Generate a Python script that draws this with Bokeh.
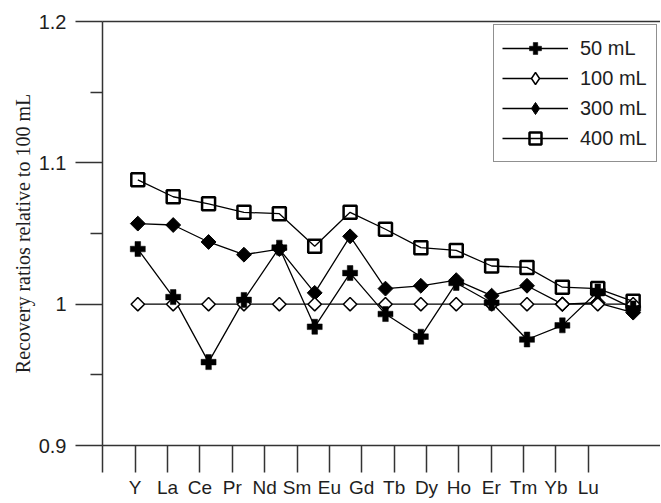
import math
from bokeh.plotting import figure
from bokeh.models import (ColumnDataSource, Range1d, LinearAxis, FixedTicker,
                          Legend, LegendItem)
from bokeh.embed import file_html
from bokeh.resources import INLINE

# ---------------- data ----------------
elements = ["Y", "La", "Ce", "Pr", "Nd", "Sm", "Eu", "Gd", "Tb", "Dy", "Ho", "Er", "Tm", "Yb", "Lu"]
ml50 = [1.039, 1.005, 0.959, 1.003, 1.040, 0.984, 1.022, 0.993, 0.977, 1.015, 1.001, 0.975, 0.985, 1.009, 0.997]
ml100 = [1.000, 1.000, 1.000, 1.000, 1.000, 1.000, 1.000, 1.000, 1.000, 1.000, 1.000, 1.000, 1.000, 1.000, 1.000]
ml300 = [1.057, 1.056, 1.044, 1.035, 1.039, 1.008, 1.048, 1.011, 1.013, 1.017, 1.006, 1.013, 1.000, 1.001, 0.994]
ml400 = [1.088, 1.076, 1.071, 1.065, 1.064, 1.041, 1.065, 1.053, 1.040, 1.038, 1.027, 1.026, 1.012, 1.011, 1.002]
series_names = ["50 mL", "100 mL", "300 mL", "400 mL"]
y_major = [0.9, 1.0, 1.1, 1.2]
y_minor = [0.95, 1.05, 1.15]
y_tick_labels = ["0.9", "1", "1.1", "1.2"]
x_tick_labels = [""] + elements  # tick 0 sits on the y axis, unlabeled
y_title = "Recovery ratios relative to 100 mL"

idx = list(range(len(elements)))
src = ColumnDataSource(dict(x=idx, ml50=ml50, ml100=ml100, ml300=ml300, ml400=ml400))

TXT = "#1e1e1e"
AX = "#333333"

p = figure(width=660, height=500, output_backend="svg", toolbar_location=None,
           x_axis_type=None, y_axis_type=None,
           x_range=Range1d(-0.998, 14.773), y_range=Range1d(0.9, 1.2),
           min_border_left=102, min_border_right=0, min_border_top=21, min_border_bottom=54)
p.outline_line_color = None
p.background_fill_color = "white"
p.border_fill_color = "white"

# separate range for the element tick row
p.extra_x_ranges = {"lab": Range1d(-0.01, 17.23)}

# left axis
yax = LinearAxis(ticker=FixedTicker(ticks=y_major, minor_ticks=y_minor),
                 major_label_overrides={v: s for v, s in zip(y_major, y_tick_labels)},
                 axis_label=y_title)
yax.major_tick_in = 0
yax.major_tick_out = 27
yax.minor_tick_in = 0
yax.minor_tick_out = 12
yax.major_label_standoff = 9
yax.axis_line_width = 1.5
yax.major_tick_line_width = 1.5
yax.minor_tick_line_width = 1.5
yax.axis_line_color = AX
yax.major_tick_line_color = AX
yax.minor_tick_line_color = AX
yax.major_label_text_font = "Liberation Sans"
yax.major_label_text_font_size = "20px"
yax.major_label_text_color = TXT
yax.axis_label_text_font = "Liberation Serif"
yax.axis_label_text_font_size = "20px"
yax.axis_label_text_font_style = "normal"
yax.axis_label_text_color = TXT
yax.axis_label_standoff = 2
p.add_layout(yax, "left")

# bottom axis (element labels)
xax = LinearAxis(x_range_name="lab", ticker=FixedTicker(ticks=list(range(len(x_tick_labels)))),
                 major_label_overrides={i: s for i, s in enumerate(x_tick_labels)})
xax.major_tick_in = 0
xax.major_tick_out = 27
xax.minor_tick_out = 0
xax.minor_tick_in = 0
xax.major_label_standoff = 4
xax.axis_line_width = 1.5
xax.major_tick_line_width = 1.5
xax.axis_line_color = AX
xax.major_tick_line_color = AX
xax.major_label_text_font = "Liberation Sans"
xax.major_label_text_font_size = "19px"
xax.major_label_text_color = TXT
p.add_layout(xax, "below")

# top frame line
tax = LinearAxis(ticker=FixedTicker(ticks=[]))
tax.major_tick_out = 0
tax.major_tick_in = 0
tax.minor_tick_out = 0
tax.minor_tick_in = 0
tax.major_label_standoff = 0
tax.major_label_text_font_size = "0px"
tax.axis_line_width = 1.5
tax.axis_line_color = AX
p.add_layout(tax, "above")

# ---------------- series ----------------
LW = 1.3
l400 = p.line("x", "ml400", source=src, line_color="black", line_width=LW)
l300 = p.line("x", "ml300", source=src, line_color="black", line_width=LW)
l100 = p.line("x", "ml100", source=src, line_color="black", line_width=LW)
l50 = p.line("x", "ml50", source=src, line_color="black", line_width=LW)

m400 = p.scatter("x", "ml400", source=src, marker="square", size=13,
                 fill_color=None, line_color="black", line_width=2.5)
m300 = p.scatter("x", "ml300", source=src, marker="square", angle=math.pi / 4, size=10.5,
                 fill_color="black", line_color="black", line_width=1)
m100 = p.scatter("x", "ml100", source=src, marker="square", angle=math.pi / 4, size=9.5,
                 fill_color="white", line_color="black", line_width=1.5)
m50 = p.scatter("x", "ml50", source=src, marker="plus", size=15,
                fill_color="black", line_color="black", line_width=0.5)

# legend-only diamond glyphs (the legend ignores marker angle)
g300 = p.scatter("x", "ml300", source=src, marker="diamond", size=20,
                 fill_color="black", line_color="black", line_width=1, visible=False)
g100 = p.scatter("x", "ml100", source=src, marker="diamond", size=20,
                 fill_color="white", line_color="black", line_width=1.5, visible=False)

legend = Legend(items=[
    LegendItem(label=series_names[0], renderers=[l50, m50]),
    LegendItem(label=series_names[1], renderers=[l100, g100]),
    LegendItem(label=series_names[2], renderers=[l300, g300]),
    LegendItem(label=series_names[3], renderers=[l400, m400]),
], location=(391, 283))
legend.padding = 8
legend.spacing = 0
legend.glyph_width = 66
legend.glyph_height = 30
legend.label_standoff = 12
legend.label_width = 68
legend.label_height = 20
legend.label_text_font = "Liberation Sans"
legend.label_text_font_size = "20px"
legend.label_text_color = TXT
legend.border_line_color = "#222222"
legend.border_line_width = 1.5
legend.background_fill_color = "white"
legend.background_fill_alpha = 1.0
legend.margin = 0
p.add_layout(legend)

open("out.html", "w").write(file_html(p, INLINE))
